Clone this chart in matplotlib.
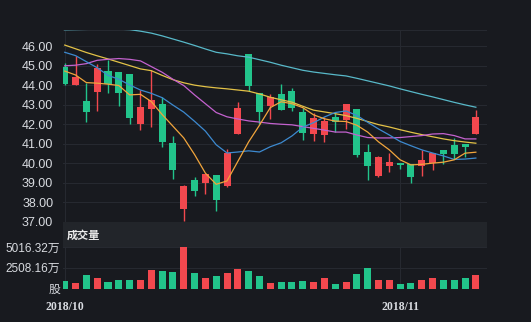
import matplotlib.pyplot as plt
import matplotlib.patches as mpatches

# fontes: latin + CJK para 万 / 股 / 成交量
plt.rcParams['font.family'] = ['Liberation Sans', 'Noto Sans CJK SC']

# DADOS
dates = ['2018/10'] + [''] * 30 + ['2018/11'] + [''] * 7
open_p = [44.95, 44.01, 43.19, 43.63, 44.72, 44.66, 44.55, 42.00, 42.77, 43.04,
          41.03, 37.68, 39.13, 38.99, 39.42, 38.82, 41.51, 45.57, 43.58, 42.94,
          43.55, 43.70, 42.65, 41.49, 41.46, 42.39, 42.22, 42.77, 40.57, 39.36,
          39.87, 40.04, 39.98, 39.84, 40.04, 40.69, 40.95, 41.00, 41.51]
close_p = [44.06, 44.43, 42.61, 44.90, 44.04, 43.58, 42.31, 42.87, 43.24, 41.07,
           39.64, 38.82, 38.56, 39.45, 38.14, 40.52, 42.85, 43.97, 42.61, 43.41,
           42.73, 42.82, 41.54, 42.34, 42.17, 42.10, 43.04, 40.44, 39.84, 40.32,
           40.06, 39.89, 39.30, 40.18, 40.55, 40.48, 40.49, 40.86, 42.36]
high_p = [45.12, 45.49, 44.10, 45.10, 45.30, 44.66, 44.55, 43.75, 44.77, 43.38,
          41.41, 38.87, 39.30, 39.45, 39.42, 40.73, 43.12, 45.60, 43.58, 43.55,
          44.04, 43.87, 42.82, 42.56, 42.39, 42.56, 43.04, 42.77, 41.00, 40.39,
          40.55, 40.04, 39.98, 40.69, 40.55, 40.69, 41.32, 41.00, 42.73]
low_p = [44.00, 44.00, 42.14, 42.70, 43.58, 42.94, 42.02, 41.71, 41.88, 40.83,
         39.19, 37.03, 38.31, 38.43, 37.54, 38.78, 41.51, 43.70, 42.00, 42.25,
         42.73, 42.70, 41.20, 41.12, 41.08, 41.60, 41.75, 40.35, 39.13, 39.28,
         39.58, 39.72, 39.02, 39.33, 39.64, 39.98, 40.21, 40.32, 41.51]
volume = [890, 647, 1618, 1214, 809, 1011, 1052, 1011, 2265, 2104,
          2023, 5016.32, 1820, 1254, 1456, 1820, 2306, 2063, 1456, 688,
          809, 728, 930, 728, 1295, 566, 769, 1740, 2508, 1052,
          1052, 526, 607, 971, 1214, 1011, 1052, 1214, 1578]

# medias moveis
ma5 = [44.72, 44.52, 44.13, 44.10, 44.05, 43.98, 43.50, 43.53, 43.16, 42.50,
       41.90, 41.30, 40.45, 39.50, 38.93, 39.10, 40.10, 41.10, 41.95, 42.85,
       43.15, 43.05, 42.85, 42.48, 42.28, 42.16, 42.14, 41.95, 41.60, 41.10,
       40.69, 40.18, 39.92, 39.95, 40.01, 40.06, 40.18, 40.52, 40.57]
ma10 = [45.68, 45.51, 45.20, 44.89, 44.50, 44.30, 44.01, 43.75, 43.58, 43.36,
        42.98, 42.62, 42.15, 41.65, 40.95, 40.53, 40.58, 40.64, 40.58, 40.85,
        41.05, 41.40, 41.85, 42.08, 42.37, 42.60, 42.68, 42.45, 42.10, 41.76,
        41.45, 41.12, 40.90, 40.69, 40.53, 40.38, 40.20, 40.22, 40.27]
ma20 = [44.99, 45.02, 45.10, 45.27, 45.32, 45.36, 45.32, 45.24, 44.95, 44.66,
        44.30, 43.98, 43.50, 43.05, 42.60, 42.38, 42.27, 42.17, 42.11, 42.04,
        42.00, 41.97, 41.88, 41.79, 41.70, 41.60, 41.60, 41.45, 41.32, 41.30,
        41.30, 41.32, 41.37, 41.42, 41.50, 41.52, 41.42, 41.25, 41.25]
ma30 = [46.05, 45.86, 45.67, 45.50, 45.34, 45.17, 45.00, 44.83, 44.74, 44.50,
        44.28, 44.12, 44.00, 43.92, 43.86, 43.81, 43.75, 43.69, 43.55, 43.38,
        43.25, 43.13, 42.92, 42.72, 42.63, 42.54, 42.44, 42.30, 42.14, 41.98,
        41.86, 41.72, 41.59, 41.47, 41.36, 41.25, 41.16, 41.09, 41.03]
ma60 = [46.83, 46.84, 46.85, 46.86, 46.86, 46.86, 46.84, 46.76, 46.66, 46.52,
        46.36, 46.20, 46.03, 45.85, 45.68, 45.60, 45.50, 45.43, 45.30, 45.17,
        45.02, 44.89, 44.76, 44.67, 44.60, 44.53, 44.47, 44.35, 44.22, 44.09,
        43.96, 43.81, 43.67, 43.53, 43.40, 43.26, 43.12, 42.99, 42.87]

UP = '#f2484e'
DOWN = '#22c48b'
BG = '#181a1f'
GRID = '#262930'
TXT = '#d8dbe0'

W, H = 531, 322
fig = plt.figure(figsize=(W / 100, H / 100), dpi=100, facecolor=BG)

# posicoes dos paineis em pixels
left, right = 63, 487
ax = fig.add_axes([left / W, 1 - 222 / H, (right - left) / W, (222 - 30) / H])
axv = fig.add_axes([left / W, 1 - 288.5 / H, (right - left) / W, (288.5 - 247) / H])

# faixa do titulo do volume
fig.patches.append(mpatches.Rectangle((left / W, 1 - 247 / H), (right - left) / W, 25 / H,
                                      transform=fig.transFigure, facecolor='#22252a',
                                      edgecolor='none', zorder=0))
fig.text(67 / W, 1 - 235 / H, '成交量', color='#ececec', fontsize=8, va='center',
         fontweight='bold', family=['Noto Sans CJK SC'])

x = list(range(len(open_p)))
colors = [UP if c >= o else DOWN for o, c in zip(open_p, close_p)]

for a in (ax, axv):
    a.set_facecolor(BG)
    for s in a.spines.values():
        s.set_visible(False)
    a.set_xlim(-0.16, 39.03)
    a.tick_params(length=0, colors=TXT, labelsize=9, pad=7)
    a.axvline(0, color=GRID, lw=0.8, zorder=0)
    a.axvline(31, color=GRID, lw=0.8, zorder=0)

# candles
ax.vlines(x, low_p, high_p, colors=colors, lw=1, zorder=2)
bottoms = [min(o, c) for o, c in zip(open_p, close_p)]
heights = [max(abs(c - o), 0.05) for o, c in zip(open_p, close_p)]
ax.bar(x, heights, bottom=bottoms, width=0.65, color=colors, zorder=3)

# medias moveis
ax.plot(x, ma60, color='#58b9c9', lw=0.9, zorder=4)
ax.plot(x, ma30, color='#e3c247', lw=0.9, zorder=4)
ax.plot(x, ma20, color='#c462cf', lw=0.9, zorder=4)
ax.plot(x, ma10, color='#3d8ad0', lw=0.9, zorder=4)
ax.plot(x, ma5, color='#f1a53c', lw=0.9, zorder=4)

ax.set_ylim(37.0, 46.82)
ax.set_yticks([37, 38, 39, 40, 41, 42, 43, 44, 45, 46])
ax.set_yticklabels(['%.2f' % v for v in ax.get_yticks()])
for v in [37, 38, 39, 40, 41, 42, 43, 44, 45, 46, 46.82]:
    ax.axhline(v, color=GRID, lw=0.8, zorder=0)
ax.set_xticks([])

# volume
axv.bar(x, volume, width=0.65, color=colors, zorder=3)
axv.set_ylim(0, 5016.32)
axv.set_yticks([0, 2508.16, 5016.32])
axv.set_yticklabels(['股', '2508.16万', '5016.32万'])
axv.tick_params(axis='y', pad=2, labelsize=8.5)
for v in [0, 2508.16, 5016.32]:
    axv.axhline(v, color=GRID, lw=0.8, zorder=0)
axv.set_xticks([0, 31])
axv.set_xticklabels(['2018/10', '2018/11'], family='Liberation Serif', fontweight='bold',
                    fontsize=8.5)
axv.tick_params(axis='x', pad=9)

fig.savefig('out.png', dpi=100, facecolor=BG)
